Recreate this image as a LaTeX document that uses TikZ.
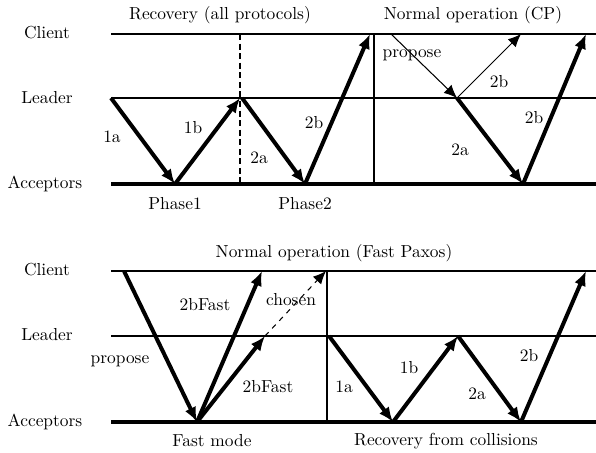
\documentclass[tikz,border=0pt]{standalone}
\usepackage{tikz}
\usetikzlibrary{arrows.meta}
\tikzset{
  seq diagram/.style={
    x=0.575pt,
    y=-0.575pt,
    line join=miter
  },
  laneline/.style={
    draw=black,
    line width=0.7pt
  },
  acceptorline/.style={
    draw=black,
    line width=2.3pt
  },
  divider/.style={
    draw=black,
    line width=0.6pt
  },
  phasedivider/.style={
    divider,
    dash pattern=on 3.5pt off 2pt
  },
  msgarrow/.style={
    -{Latex[length=8.5pt,width=7pt]},
    draw=black,
    line width=2.3pt
  },
  thinarrow/.style={
    -{Latex[length=7.5pt,width=6.5pt]},
    draw=black,
    line width=0.6pt
  },
  chosenarrow/.style={
    thinarrow,
    dashed
  },
  lanelabel/.style={inner sep=1pt},
  msglabel/.style={inner sep=1pt}
}

\begin{document}
\begin{tikzpicture}[seq diagram]
\useasboundingbox (0,0) rectangle (596,453);

% upper panel: recovery and normal operation (CP)
\coordinate (aC0) at (111,34);  \coordinate (aC1) at (596,34);
\coordinate (aL0) at (111,98);  \coordinate (aL1) at (596,98);
\coordinate (aA0) at (111,184); \coordinate (aA1) at (596,184);
\coordinate (dashTop) at (240,34); \coordinate (dashBot) at (240,184);
\coordinate (divTop) at (374,34);  \coordinate (divBot) at (374,184);
\coordinate (ph1) at (175,184);
\coordinate (lead1b) at (240,98);
\coordinate (lead2a) at (242,98);
\coordinate (ph2) at (305,184);
\coordinate (cli2b) at (370,34);
\coordinate (cpProp) at (391,34);
\coordinate (cpLead) at (457,98);
\coordinate (cpCli) at (521,34);
\coordinate (cpAcc) at (523,184);
\coordinate (cpDone) at (586,34);

\node[lanelabel] (clientA) at (47,33) {Client};
\node[lanelabel] (leaderA) at (47,98) {Leader};
\node[lanelabel] (accA) at (45,184) {Acceptors};
\node (recTitle) at (220,15) {Recovery (all protocols)};
\node (cpTitle) at (473,15) {Normal operation (CP)};

\draw[laneline] (aC0) -- (aC1);
\draw[laneline] (aL0) -- (aL1);
\draw[acceptorline] (aA0) -- (aA1);
\draw[phasedivider] (dashTop) -- (dashBot);
\draw[divider] (divTop) -- (divBot);

\draw[msgarrow] (aL0) -- (ph1);
\draw[msgarrow] (ph1) -- (lead1b);
\draw[msgarrow] (lead2a) -- (ph2);
\draw[msgarrow] (ph2) -- (cli2b);
\draw[thinarrow] (cpProp) -- (cpLead);
\draw[thinarrow] (cpLead) -- (cpCli);
\draw[msgarrow] (cpLead) -- (cpAcc);
\draw[msgarrow] (cpAcc) -- (cpDone);

\node[msglabel] (m1a) at (112,137) {1a};
\node[msglabel] (m1b) at (193,128) {1b};
\node[msglabel] (m2a) at (259,158) {2a};
\node[msglabel] (m2b) at (314,123) {2b};
\node[msglabel] (mProp) at (412,55) {propose};
\node[msglabel] (mCp2b) at (499,82) {2b};
\node[msglabel] (mCp2a) at (460,150) {2a};
\node[msglabel] (mCp2bb) at (534,118) {2b};
\node (phase1) at (175,204) {Phase1};
\node (phase2) at (305,204) {Phase2};

% lower panel: Fast Paxos
\coordinate (bC0) at (111,271); \coordinate (bC1) at (596,271);
\coordinate (bL0) at (111,336); \coordinate (bL1) at (596,336);
\coordinate (bA0) at (111,422); \coordinate (bA1) at (596,422);
\coordinate (fdivTop) at (327,271); \coordinate (fdivBot) at (327,422);
\coordinate (fProp) at (124,271);
\coordinate (fAcc) at (197,422);
\coordinate (fCli) at (262,271);
\coordinate (fLead) at (265,336);
\coordinate (fChosen) at (326,271);
\coordinate (rLead1) at (329,336);
\coordinate (rAcc1) at (393,422);
\coordinate (rLead2) at (458,336);
\coordinate (rAcc2) at (521,422);
\coordinate (rCli) at (586,271);

\node[lanelabel] (clientB) at (47,270) {Client};
\node[lanelabel] (leaderB) at (47,335) {Leader};
\node[lanelabel] (accB) at (45,422) {Acceptors};
\node (fpTitle) at (334,253) {Normal operation (Fast Paxos)};

\draw[laneline] (bC0) -- (bC1);
\draw[laneline] (bL0) -- (bL1);
\draw[acceptorline] (bA0) -- (bA1);
\draw[divider] (fdivTop) -- (fdivBot);

\draw[msgarrow] (fProp) -- (fAcc);
\draw[msgarrow] (fAcc) -- (fCli);
\draw[msgarrow] (fAcc) -- (fLead);
\draw[chosenarrow] (fLead) -- (fChosen);
\draw[msgarrow] (rLead1) -- (rAcc1);
\draw[msgarrow] (rAcc1) -- (rLead2);
\draw[msgarrow] (rLead2) -- (rAcc2);
\draw[msgarrow] (rAcc2) -- (rCli);

\node[msglabel] (fb1) at (205,305) {2bFast};
\node[msglabel] (fch) at (291,300) {chosen};
\node[msglabel] (fpr) at (120,361) {propose};
\node[msglabel] (fb2) at (268,387) {2bFast};
\node[msglabel] (r1a) at (344,387) {1a};
\node[msglabel] (r1b) at (409,368) {1b};
\node[msglabel] (r2a) at (477,394) {2a};
\node[msglabel] (r2b) at (529,356) {2b};
\node (fastMode) at (212,441) {Fast mode};
\node (recColl) at (446,441) {Recovery from collisions};
\end{tikzpicture}
\end{document}
